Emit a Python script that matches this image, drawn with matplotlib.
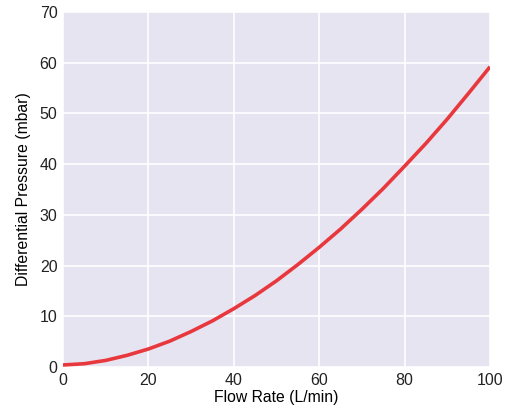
import matplotlib
matplotlib.use("Agg")
import matplotlib.pyplot as plt

plt.rcParams['font.family'] = ['Liberation Sans', 'DejaVu Sans']

# flow rate (L/min) vs differential pressure (mbar)
flow = [0, 5, 10, 15, 20, 25, 30, 35, 40, 45, 50, 55, 60, 65, 70, 75, 80, 85, 90, 95, 100]
pressure = [0.4, 0.65, 1.3, 2.3, 3.55, 5.1, 7.0, 9.1, 11.5, 14.1, 17.0, 20.2, 23.6,
            27.2, 31.1, 35.2, 39.6, 44.1, 48.9, 54.0, 59.2]

xticks = [0, 20, 40, 60, 80, 100]
yticks = [0, 10, 20, 30, 40, 50, 60, 70]

fig = plt.figure(figsize=(5.15, 4.12), dpi=100)
ax = fig.add_axes([0.1223, 0.1092, 0.8292, 0.8617])
ax.set_facecolor('#e6e4f0')

ax.plot(flow, pressure, color='#e8383d', linewidth=2.6, solid_capstyle='butt')

ax.set_xlim(0, 100)
ax.set_ylim(0, 70)
ax.set_xticks(xticks)
ax.set_yticks(yticks)
ax.grid(True, color='white', linewidth=1.2)
ax.set_axisbelow(True)
for s in ax.spines.values():
    s.set_visible(False)
ax.tick_params(length=0, labelsize=11.5, pad=4, colors='#222222')

ax.set_xlabel('Flow Rate (L/min)', fontsize=11.3, labelpad=2)
ax.set_ylabel('Differential Pressure (mbar)', fontsize=11.3, labelpad=6)

fig.savefig('out.png', dpi=100)
